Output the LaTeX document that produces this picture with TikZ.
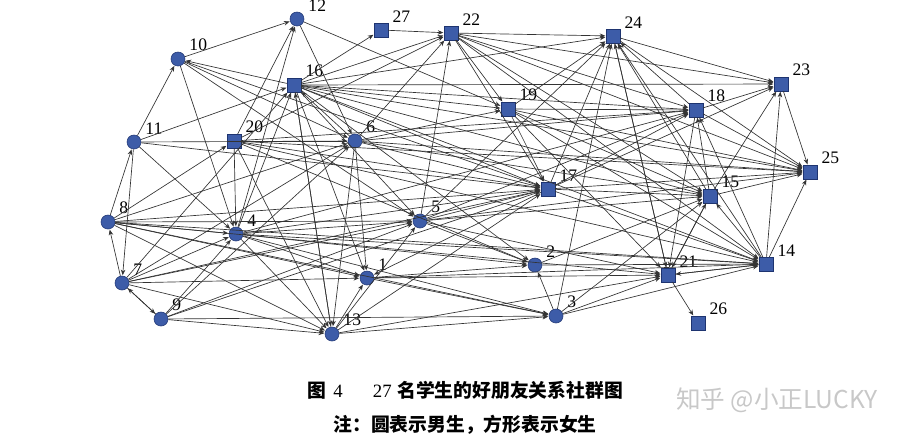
\documentclass[tikz,border=0pt]{standalone}
\usepackage{fontspec}
\setmainfont{Liberation Serif}
\newfontfamily\cjk{Noto Sans CJK SC}
\usepackage{tikz}
\usetikzlibrary{arrows.meta}
\definecolor{boycol}{HTML}{3d5ca8}
\definecolor{rimcol}{HTML}{1e3470}
\definecolor{markcol}{HTML}{c8c8c8}

\tikzset{
  boy/.style={circle, fill=boycol, draw=rimcol, line width=0.3pt, minimum size=8pt, inner sep=0pt},
  girl/.style={rectangle, fill=boycol, draw=rimcol, line width=0.3pt, minimum size=7.8pt, inner sep=0pt},
  tag/.style={label={[font=\fontsize{10}{11}\selectfont, label distance=-1pt]18:#1}},
  tie/.style={-{Stealth[length=3.2pt,width=2.6pt]}, line width=0.38pt, draw=black!80, shorten >=0.3pt}
}

\begin{document}
\begin{tikzpicture}[x=0.02cm, y=-0.02cm]
\useasboundingbox (0,0) rectangle (913,437);

% students: circles are boys, squares are girls
\node[boy,  tag=1]  (s1)  at (367,278) {};
\node[boy,  tag=2]  (s2)  at (535,265) {};
\node[boy,  tag=3]  (s3)  at (556,316) {};
\node[boy,  tag=4]  (s4)  at (236,234) {};
\node[boy,  tag=5]  (s5)  at (420,221) {};
\node[boy,  tag=6]  (s6)  at (355,141) {};
\node[boy,  tag=7]  (s7)  at (122,283) {};
\node[boy,  tag=8]  (s8)  at (108,222) {};
\node[boy,  tag=9]  (s9)  at (161,319) {};
\node[boy,  tag=10] (s10) at (178,59)  {};
\node[boy,  tag=11] (s11) at (134,142) {};
\node[boy,  tag=12] (s12) at (297,19)  {};
\node[boy,  tag=13] (s13) at (332,334) {};
\node[girl, tag=14] (s14) at (766,264) {};
\node[girl, tag=15] (s15) at (710,196) {};
\node[girl, tag=16] (s16) at (294,85)  {};
\node[girl, tag=17] (s17) at (548,189) {};
\node[girl, tag=18] (s18) at (696,110) {};
\node[girl, tag=19] (s19) at (508,109) {};
\node[girl, tag=20] (s20) at (234,141) {};
\node[girl, tag=21] (s21) at (668,275) {};
\node[girl, tag=22] (s22) at (451,33)  {};
\node[girl, tag=23] (s23) at (781,84)  {};
\node[girl, tag=24] (s24) at (613,36)  {};
\node[girl, tag=25] (s25) at (810,172) {};
\node[girl, tag=26] (s26) at (698,323) {};
\node[girl, tag=27] (s27) at (381,30)  {};

% friendship ties, arrow points to the chosen friend
\foreach \a/\b in {4/1,8/1,6/1,16/1,1/2,1/21,13/1,7/1,17/1,5/2,3/2,2/15,16/2,4/2,20/2,
  3/24,13/3,9/3,4/3,3/14,3/15,1/3,8/3,4/12,8/4,4/13,7/4,9/4,4/5,4/17,4/16,4/18,20/4,
  5/22,5/17,5/18,5/25,5/24,7/5,9/5,16/5,13/5,5/21,6/22,6/16,6/17,6/13,6/19,6/18,6/25,
  6/15,20/6,10/6,12/6,11/6,8/6,7/6,7/8,7/9,7/17,7/16,7/13,8/11,8/20,8/13,8/17,8/21,
  8/14,8/5,9/7,9/13,9/6,9/17,10/12,11/10,16/10,10/17,10/5,10/4,11/16,11/7,11/4,13/16,
  13/17,14/25,14/15,14/21,14/18,14/24,14/23,16/14,20/14,19/14,17/14,4/14,15/25,15/21,
  15/24,15/18,15/23,16/15,19/15,17/15,5/15,22/15,16/22,16/24,16/23,16/18,16/25,16/17,
  16/19,16/13,17/24,17/18,17/23,17/25,19/17,22/17,18/23,18/24,18/21,18/25,19/18,22/18,
  20/18,22/19,19/25,19/21,19/24,20/12,20/17,20/25,20/22,20/13,21/26,21/15,21/24,21/14,
  27/22,22/24,22/23,22/25,22/14,16/27,23/25,24/23,24/25,24/21,12/19,11/17,2/14,1/14,
  3/21,13/21}
  \draw[tie] (s\a) -- (s\b);

% caption
\node (title) at (465,390) {\fontsize{10.7}{12}\selectfont{\cjk\bfseries 图}\hspace{0.4em}4\hspace{1.6em}27\hspace{0.3em}{\cjk\bfseries 名学生的好朋友关系社群图}};
\node (note) at (465,425) {\fontsize{10.7}{12}\selectfont\cjk\bfseries 注：圆表示男生，方形表示女生};
\node[text=markcol] (mark) at (777,400) {\fontsize{14}{16}\selectfont\cjk 知乎 @小正LUCKY};
\end{tikzpicture}
\end{document}
